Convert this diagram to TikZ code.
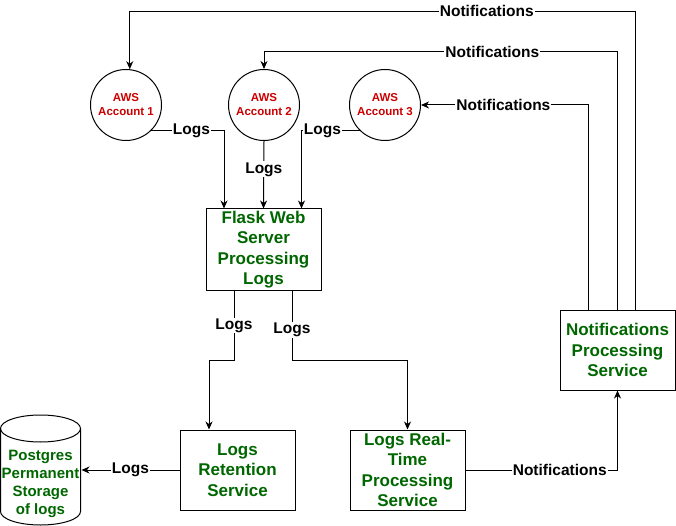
\documentclass[tikz,border=0pt]{standalone}
\usepackage{fontspec}
\setmainfont{Liberation Sans}
\usetikzlibrary{arrows.meta,calc}
\definecolor{awsred}{RGB}{204,0,0}
\definecolor{boxgreen}{RGB}{0,102,0}
\begin{document}
\begin{tikzpicture}[x=1pt,y=-1pt,
  line width=1pt,
  acct/.style={circle,draw,minimum size=71pt,inner sep=0pt,align=center,text=awsred,
    font=\fontsize{11.5}{14}\selectfont\bfseries},
  box/.style={rectangle,draw,align=center,text=boxgreen,inner sep=0pt,
    font=\fontsize{17}{20.5}\selectfont\bfseries},
  pgtext/.style={align=center,text=boxgreen,inner sep=0pt,minimum width=81pt,
    font=\fontsize{15}{18}\selectfont\bfseries},
  lbl/.style={fill=white,inner sep=1pt,font=\fontsize{15.5}{18}\selectfont\bfseries},
  arr/.style={-{Stealth[length=8pt,width=7pt,inset=2.5pt]}}]
\useasboundingbox (0,0) rectangle (676,526);

% accounts
\node[acct] (a1) at (126,105) {AWS\\Account 1};
\node[acct] (a2) at (264,105) {AWS\\Account 2};
\node[acct] (a3) at (385,105) {AWS\\Account 3};

% boxes
\node[box,minimum width=115pt,minimum height=81pt] (flask) at (263.5,249.5) {Flask Web\\Server\\Processing\\Logs};
\node[box,minimum width=115pt,minimum height=80pt] (ret) at (237.5,470) {Logs\\Retention\\Service};
\node[box,minimum width=115pt,minimum height=80pt] (rt) at (407.5,470) {Logs Real-\\Time\\Processing\\Service};
\node[box,minimum width=115pt,minimum height=80pt] (notif) at (617.5,350) {Notifications\\Processing\\Service};

% postgres cylinder
\draw (0.5,428.5) -- (0.5,511.5) arc[start angle=180,end angle=360,x radius=40pt,y radius=13.5pt] -- (80.5,428.5);
\draw (40.5,428.5) ellipse[x radius=40pt,y radius=13.5pt];
\node[pgtext] (pg) at (40.5,484) {Postgres\\Permanent\\Storage\\of logs};

% logs into flask
\draw[arr] (a1.-45) -| node[lbl,pos=0.275] {Logs} ([xshift=-39.5pt]flask.north);
\draw[arr] (a2.south) -- node[lbl,pos=0.42] {Logs} (flask.north);
\draw[arr] (a3.-135) -| node[lbl,pos=0.32] {Logs} ([xshift=38pt]flask.north);

% flask to services
\draw[arr] ([xshift=-29.5pt]flask.south) -- node[lbl] {Logs} ([xshift=-29.5pt,yshift=-70pt]flask.south) -| ([xshift=-28.5pt]ret.north);
\draw[arr] ([xshift=28.5pt]flask.south) -- node[lbl,pos=0.56] {Logs} ([xshift=28.5pt,yshift=-70pt]flask.south) -| (rt.north);

% retention to postgres
\draw[arr] (ret.west) -- node[lbl] {Logs} (ret.west -| pg.east);

% realtime to notifications
\draw[arr] (rt.east) -| node[lbl,pos=0.31] {Notifications} (notif.south);

% notifications back to accounts
\draw[arr] ([xshift=18pt]notif.north) |- node[lbl,pos=0.647] {Notifications} ([yshift=58pt]a1.84) -- (a1.84);
\draw[arr] (notif.north) |- node[lbl,pos=0.677] {Notifications} ([yshift=17pt]a2.north) -- (a2.north);
\draw[arr] ([xshift=-29pt]notif.north) |- node[lbl,pos=0.754] {Notifications} (a3.east);
\end{tikzpicture}
\end{document}
